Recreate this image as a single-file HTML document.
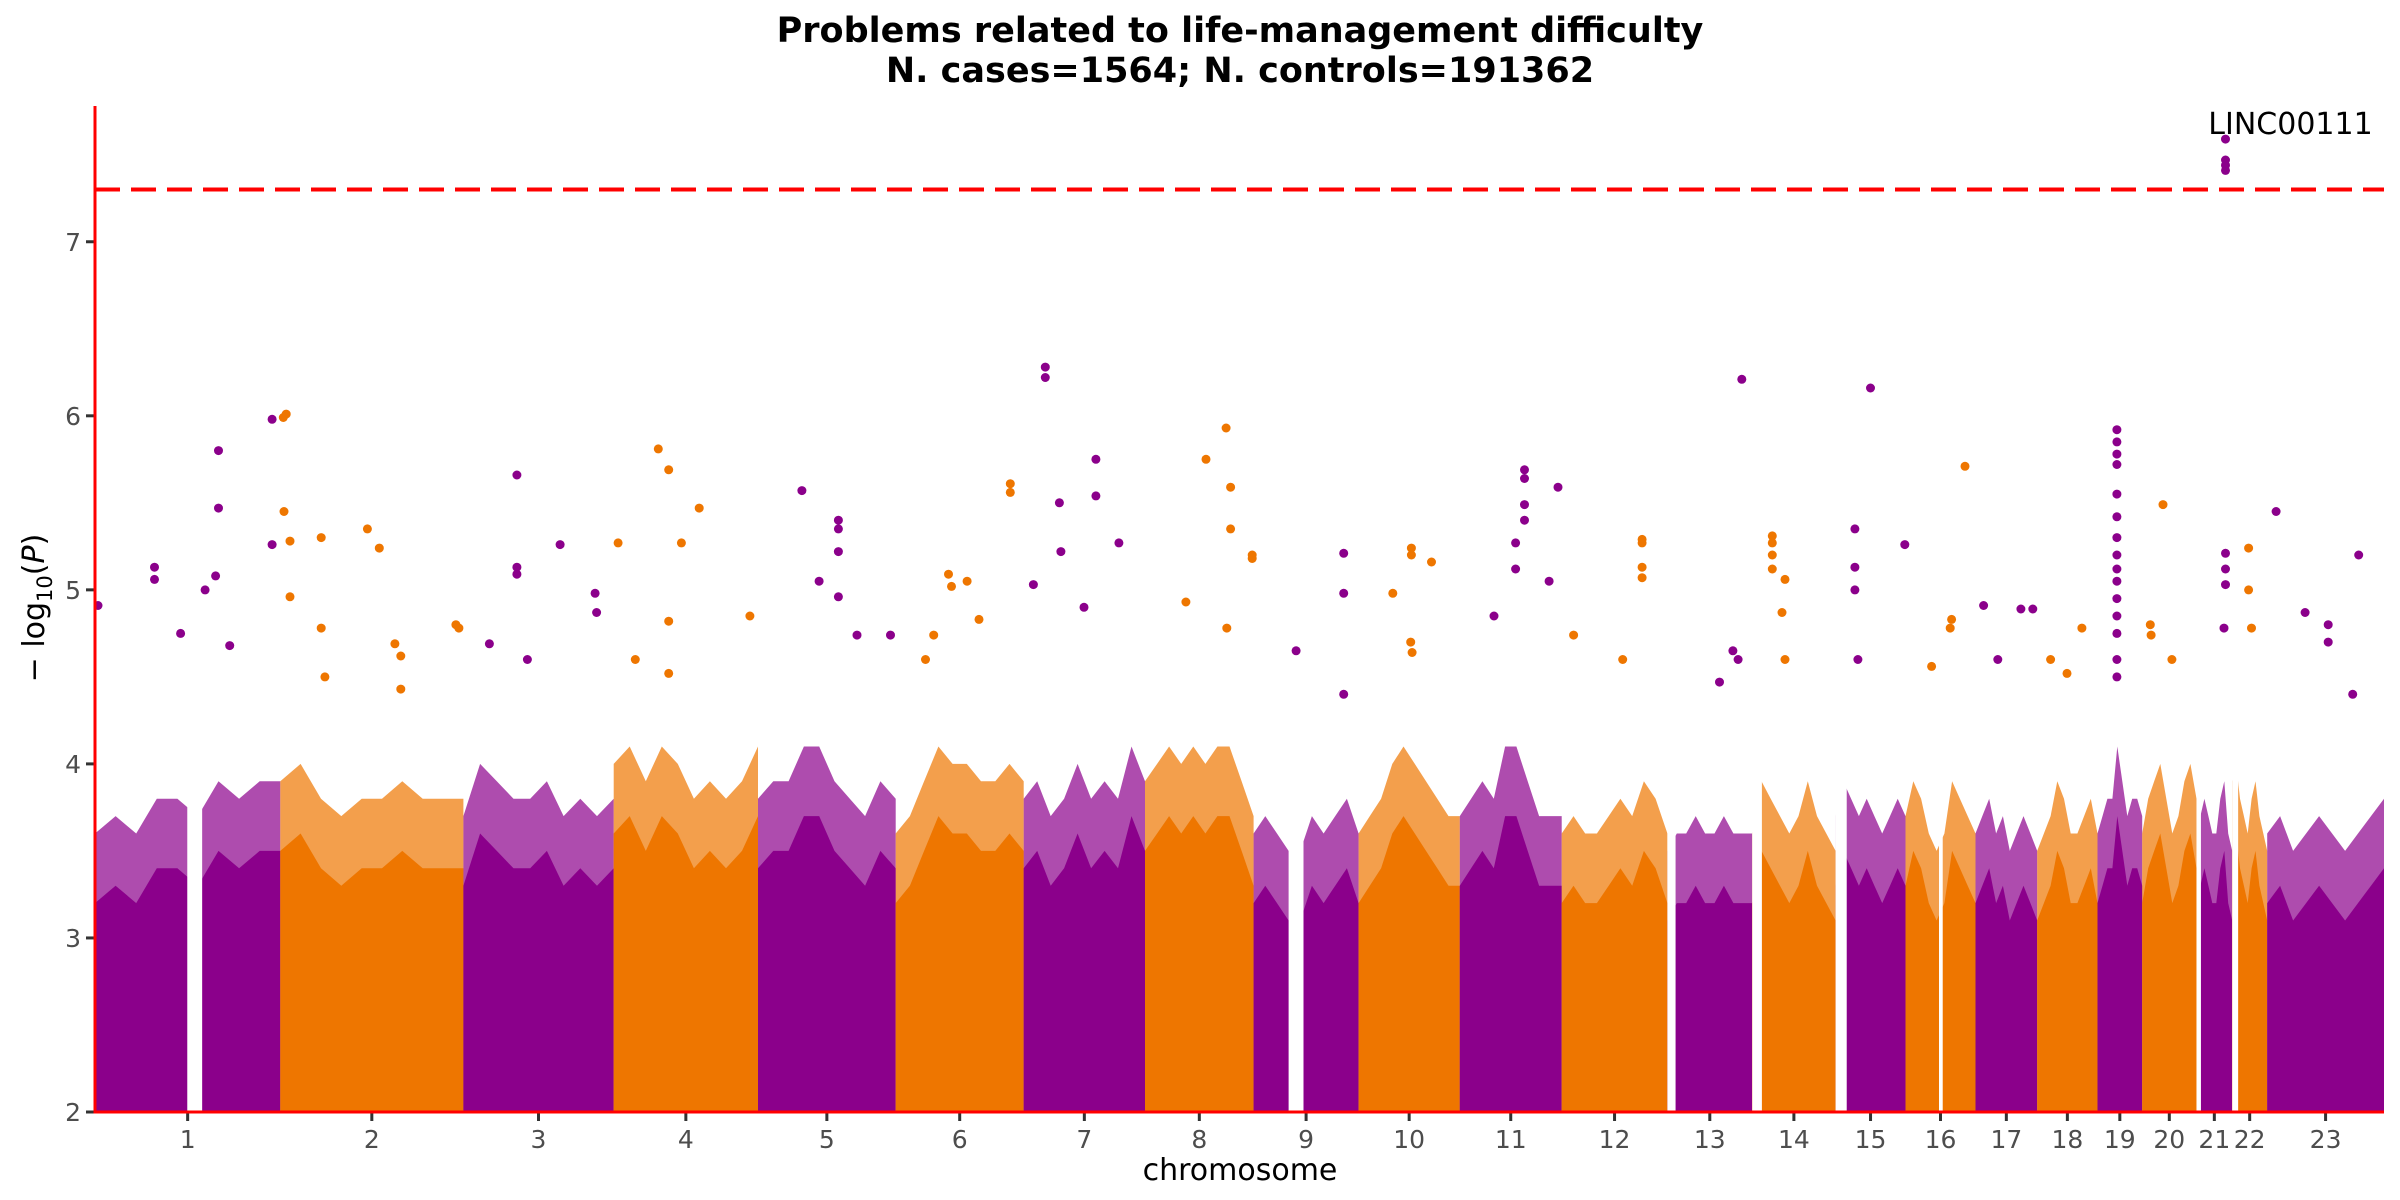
<!DOCTYPE html>
<html><head><meta charset="utf-8"><title>Manhattan plot</title>
<style>
html,body{margin:0;padding:0;background:#fff;}
svg{display:block;}
text{font-family:"DejaVu Sans","Liberation Sans",sans-serif;}
</style></head>
<body>
<svg id="chart" width="2400" height="1200" viewBox="0 0 2400 1200" xmlns="http://www.w3.org/2000/svg">
<text x="1240" y="42" text-anchor="middle" font-size="35" font-weight="bold" fill="#000">Problems related to life-management difficulty</text>
<text x="1240" y="82" text-anchor="middle" font-size="35" font-weight="bold" fill="#000">N. cases=1564; N. controls=191362</text>
<g id="plot"></g>
<text x="1240" y="1180" text-anchor="middle" font-size="30" fill="#000">chromosome</text>
<text transform="translate(44,608) rotate(-90)" text-anchor="middle" font-size="30" fill="#000">− log<tspan font-size="21" dy="8">10</tspan><tspan dy="-8">(</tspan><tspan font-style="italic">P</tspan>)</text>
</svg>
<script>
// ---- data ----
const chromLabels = ["1","2","3","4","5","6","7","8","9","10","11","12","13","14","15","16","17","18","19","20","21","22","23"];
const chromLengths = [249,246,202,194,185,172,163,146,141,136,137,142,114,112,94,94,83,81,60,73,48,47,157];
const chromColors = ["#8b008b","#ee7600"];
// dense mass envelope: 10 evenly spaced -log10(P) heights per chromosome
const envelopes = [
 [3.3,3.4,3.3,3.5,3.5,3.4,3.6,3.5,3.6,3.6],
 [3.6,3.7,3.5,3.4,3.5,3.5,3.6,3.5,3.5,3.5],
 [3.4,3.7,3.6,3.5,3.5,3.6,3.4,3.5,3.4,3.5],
 [3.7,3.8,3.6,3.8,3.7,3.5,3.6,3.5,3.6,3.8],
 [3.5,3.6,3.6,3.8,3.8,3.6,3.5,3.4,3.6,3.5],
 [3.3,3.4,3.6,3.8,3.7,3.7,3.6,3.6,3.7,3.6],
 [3.5,3.6,3.4,3.5,3.7,3.5,3.6,3.5,3.8,3.6],
 [3.6,3.7,3.8,3.7,3.8,3.7,3.8,3.8,3.6,3.4],
 [3.3,3.4,3.3,3.2,3.2,3.4,3.3,3.4,3.5,3.3],
 [3.3,3.4,3.5,3.7,3.8,3.7,3.6,3.5,3.4,3.4],
 [3.4,3.5,3.6,3.5,3.8,3.8,3.6,3.4,3.4,3.4],
 [3.3,3.4,3.3,3.3,3.4,3.5,3.4,3.6,3.5,3.3],
 [3.2,3.3,3.3,3.4,3.3,3.3,3.4,3.3,3.3,3.3],
 [3.3,3.6,3.5,3.4,3.3,3.4,3.6,3.4,3.3,3.2],
 [3.4,3.6,3.5,3.4,3.5,3.4,3.3,3.4,3.5,3.4],
 [3.4,3.6,3.5,3.3,3.2,3.3,3.6,3.5,3.4,3.3],
 [3.3,3.4,3.5,3.3,3.4,3.2,3.3,3.4,3.3,3.2],
 [3.2,3.3,3.4,3.6,3.5,3.3,3.3,3.4,3.5,3.3],
 [3.3,3.4,3.5,3.5,3.8,3.6,3.4,3.5,3.5,3.4],
 [3.3,3.5,3.6,3.7,3.5,3.3,3.4,3.6,3.7,3.5],
 [3.3,3.4,3.5,3.4,3.3,3.3,3.5,3.6,3.3,3.2],
 [3.6,3.7,3.5,3.4,3.3,3.5,3.6,3.4,3.3,3.2],
 [3.3,3.4,3.2,3.3,3.4,3.3,3.2,3.3,3.4,3.5]
];
// gaps without SNPs: chromosome index, start Mb, end Mb
const gapChrom = [0,8,12,13,14,15,20,21];
const gapStart = [124,47,0,0,0,45,0,0];
const gapEnd   = [144,67,11,13,15,50,6,8];
// notable SNP positions (Mb) per chromosome
const snpPos = [
 [4,80,80,115,148,166,166,162,181,238,238],
 [8,4,5,13,13,55,117,133,154,162,162,236,240,55,60],
 [72,72,72,130,177,179,35,86],
 [6,60,74,74,91,115,29,183,74],
 [59,108,108,108,82,108,133,178],
 [71,75,96,154,154,51,40,112],
 [29,29,48,97,97,128,13,81,50],
 [82,109,115,115,144,144,55,110],
 [121,121,121,57],
 [71,71,46,98,70,72],
 [87,87,87,87,75,75,132,46,120],
 [108,108,108,108,16,82],
 [100,88,70,95],
 [27,27,27,27,44,44,40],
 [47,26,26,26,93,30],
 [80,62,60,35],
 [11,61,77,30],
 [18,60,40],
 [26,26,26,26,26,26,26,26,26,26,26,26,26,26,26],
 [28,11,12,40],
 [39,39,39,39,39,39,39,37],
 [22,22,26],
 [12,123,51,82,82,115]
];
// notable SNP -log10(P) per chromosome
const snpLogP = [
 [4.91,5.13,5.06,4.75,5.0,5.80,5.47,5.08,4.68,5.26,5.98],
 [6.01,5.99,5.45,5.28,4.96,5.30,5.35,5.24,4.69,4.62,4.43,4.80,4.78,4.78,4.5],
 [5.66,5.13,5.09,5.26,4.98,4.87,4.69,4.6],
 [5.27,5.81,5.69,4.82,5.27,5.47,4.6,4.85,4.52],
 [5.57,5.40,5.35,5.22,5.05,4.96,4.74,4.74],
 [5.09,5.02,5.05,5.61,5.56,4.74,4.6,4.83],
 [6.28,6.22,5.50,5.75,5.54,5.27,5.03,4.9,5.22],
 [5.75,5.93,5.59,5.35,5.18,5.2,4.93,4.78],
 [5.21,4.98,4.40,4.65],
 [5.24,5.20,4.98,5.16,4.7,4.64],
 [5.69,5.64,5.49,5.40,5.27,5.12,5.59,4.85,5.05],
 [5.29,5.27,5.13,5.07,4.74,4.6],
 [6.21,4.65,4.47,4.6],
 [5.31,5.27,5.20,5.12,5.06,4.6,4.87],
 [6.16,5.35,5.13,5.0,5.26,4.6],
 [5.71,4.83,4.78,4.56],
 [4.91,4.89,4.89,4.6],
 [4.6,4.78,4.52],
 [5.92,5.85,5.78,5.72,5.55,5.42,5.3,5.2,5.12,5.05,4.95,4.85,4.75,4.6,4.5],
 [5.49,4.8,4.74,4.6],
 [7.59,7.47,7.44,7.41,5.21,5.12,5.03,4.78],
 [5.24,5.0,4.78],
 [5.45,5.20,4.87,4.8,4.7,4.4]
];
const yTicks = [2,3,4,5,6,7];
const threshold = 7.3;
const yMin = 2, yMax = 7.78;
const annotChrom = 20, annotPos = 39, annotLogP = 7.59, annotText = "LINC00111";

// ---- scales ----
const NS = "http://www.w3.org/2000/svg";
const X0 = 95, X1 = 2384, Y0 = 1112, Y1 = 106;
const starts = [];
let acc = 0;
for (let i = 0; i < chromLengths.length; i++) { starts.push(acc); acc += chromLengths[i]; }
const total = acc;
function xScale(cum) { return X0 + (cum / total) * (X1 - X0); }
function xPos(chr, pos) { return xScale(starts[chr] + pos); }
function yScale(v) { return Y0 - (v - yMin) / (yMax - yMin) * (Y0 - Y1); }
function mk(tag, attrs) {
  const el = document.createElementNS(NS, tag);
  for (const k in attrs) el.setAttribute(k, attrs[k]);
  return el;
}
const plot = document.getElementById('plot');

function massPoly(c, offset, opacity) {
  const env = envelopes[c];
  const pts = [[xPos(c, 0), yScale(yMin)]];
  for (let i = 0; i < env.length; i++) {
    pts.push([xPos(c, chromLengths[c] * i / (env.length - 1)), yScale(env[i] + offset)]);
  }
  pts.push([xPos(c, chromLengths[c]), yScale(yMin)]);
  return mk('polygon', {points: pts.map(p => p[0].toFixed(1) + ',' + p[1].toFixed(1)).join(' '), fill: chromColors[c % 2], 'fill-opacity': opacity});
}
// speckled upper zone then solid mass
for (let c = 0; c < chromLengths.length; c++) {
  const sp = massPoly(c, 0.3, 0.7);
  
  
  plot.appendChild(sp);
  const poly = massPoly(c, -0.1, 1);
  
  
  plot.appendChild(poly);
}
// gaps
for (let g = 0; g < gapChrom.length; g++) {
  const xa = xPos(gapChrom[g], gapStart[g]), xb = xPos(gapChrom[g], gapEnd[g]);
  const r = mk('rect', {x: xa, y: yScale(4.3), width: Math.max(1, xb - xa), height: yScale(yMin) - yScale(4.3), fill: '#fff'});
  
  
  plot.appendChild(r);
}
// threshold line
const th = mk('line', {x1: X0, x2: X1, y1: yScale(threshold), y2: yScale(threshold), stroke: '#ff0000', 'stroke-width': 4, 'stroke-dasharray': '25 11'});


plot.appendChild(th);
// SNP points
for (let c = 0; c < snpPos.length; c++) {
  for (let i = 0; i < snpPos[c].length; i++) {
    const p = mk('circle', {cx: xPos(c, snpPos[c][i]).toFixed(1), cy: yScale(snpLogP[c][i]).toFixed(1), r: 4.5, fill: chromColors[c % 2]});
    
    
    plot.appendChild(p);
  }
}
// annotation
const an = mk('text', {x: xPos(annotChrom, annotPos) + 65, y: yScale(annotLogP) - 5, 'text-anchor': 'middle', 'font-size': 30, fill: '#000'});
an.textContent = annotText;


plot.appendChild(an);
// axes
const ya = mk('line', {x1: X0, x2: X0, y1: Y1, y2: Y0 + 1.5, stroke: '#ff0000', 'stroke-width': 3});


plot.appendChild(ya);
const xa = mk('line', {x1: X0 - 1.5, x2: X1, y1: Y0, y2: Y0, stroke: '#ff0000', 'stroke-width': 3});


plot.appendChild(xa);
for (const t of yTicks) {
  const y = yScale(t);
  const tk = mk('line', {x1: X0 - 9, x2: X0 - 1.5, y1: y, y2: y, stroke: '#333', 'stroke-width': 3});
  
  
  plot.appendChild(tk);
  const tl = mk('text', {x: X0 - 14, y: y + 9, 'text-anchor': 'end', 'font-size': 25, fill: '#4d4d4d'});
  tl.textContent = t;
  
  
  plot.appendChild(tl);
}
for (let c = 0; c < chromLabels.length; c++) {
  const x = xPos(c, chromLengths[c] / 2);
  const tk = mk('line', {x1: x, x2: x, y1: Y0 + 1.5, y2: Y0 + 9, stroke: '#333', 'stroke-width': 3});
  
  
  plot.appendChild(tk);
  const tl = mk('text', {x: x, y: Y0 + 36, 'text-anchor': 'middle', 'font-size': 25, fill: '#4d4d4d'});
  tl.textContent = chromLabels[c];
  
  
  plot.appendChild(tl);
}
</script>
</body></html>
